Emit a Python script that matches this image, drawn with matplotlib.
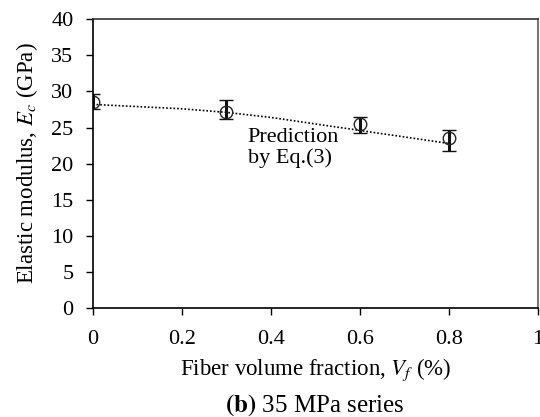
import matplotlib
matplotlib.use('Agg')
import matplotlib.pyplot as plt

plt.rcParams['font.family'] = ['Liberation Serif', 'DejaVu Serif']
plt.rcParams['mathtext.fontset'] = 'stix'

# measured elastic modulus (GPa) vs fiber volume fraction (%)
vf = [0.0, 0.3, 0.6, 0.8]
ec = [28.6, 27.2, 25.5, 23.6]
err_lo = [1.0, 1.0, 1.3, 1.8]
err_hi = [1.0, 1.6, 1.0, 1.0]

# prediction curve by Eq.(3)
vf_pred = [0.0, 0.1, 0.2, 0.3, 0.4, 0.5, 0.6, 0.7, 0.8]
ec_pred = [28.2, 27.9, 27.6, 27.1, 26.4, 25.5, 24.6, 23.7, 22.8]

fig = plt.figure(figsize=(5.4, 4.17), dpi=100)
ax = fig.add_axes([0.172, 0.261, 0.824, 0.693])

ax.plot(vf_pred, ec_pred, linestyle=(0, (1, 1.2)), color='black', linewidth=1.2)
ax.errorbar(vf, ec, yerr=[err_lo, err_hi], fmt='o', markersize=9,
            markerfacecolor='none', markeredgecolor='#222222', markeredgewidth=1.0,
            ecolor='#111111', elinewidth=2.2, capsize=5, capthick=3.8)

ax.text(0.348, 24.9, 'Prediction\nby Eq.(3)', fontsize=16, va='top', ha='left',
        linespacing=1.1)

ax.set_xlim(0, 1)
ax.set_ylim(0, 40)
ax.set_xticks([0, 0.2, 0.4, 0.6, 0.8, 1])
ax.set_xticklabels(['0', '0.2', '0.4', '0.6', '0.8', '1'])
ax.set_yticks(range(0, 41, 5))
ax.tick_params(direction='out', length=5, width=1, labelsize=16)
ax.tick_params(axis='y', pad=9)
ax.tick_params(axis='x', pad=11)
for s in ax.spines.values():
    s.set_linewidth(1.2)
ax.spines['top'].set_color('#333333')
ax.spines['right'].set_color('#777777')
ax.spines['right'].set_linewidth(1.5)

ax.set_xlabel(r'Fiber volume fraction, $V_f$ (%)', fontsize=16.5, labelpad=5)
ax.set_ylabel(r'Elastic modulus, $E_c$ (GPa)', fontsize=16.5, labelpad=8)

fig.text(0.583, 0.028, r'$\mathbf{(b)}$ 35 MPa series', fontsize=18,
         ha='center', va='center')

fig.savefig('out.png', dpi=100)
